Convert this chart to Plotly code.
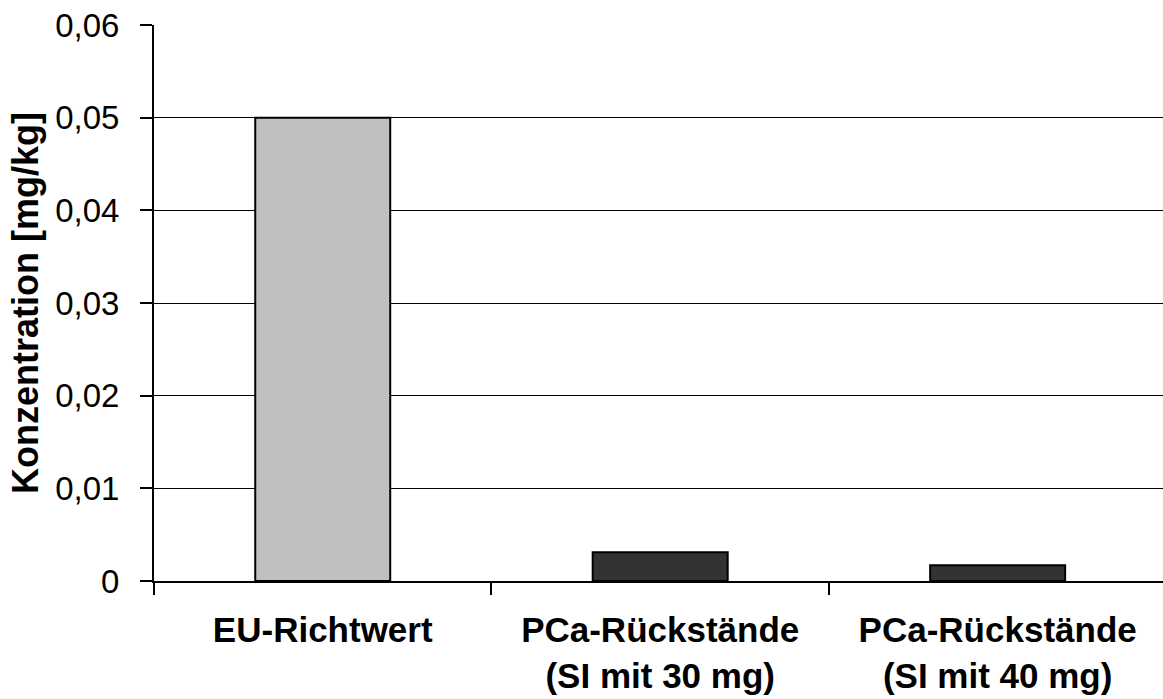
import plotly.graph_objects as go

# Konzentration je Probe in mg/kg
kategorien = ["EU-Richtwert", "PCa-Rückstände<br>(SI mit 30 mg)", "PCa-Rückstände<br>(SI mit 40 mg)"]
werte = [0.05, 0.0031, 0.0017]
farben = ["#C0C0C0", "#333333", "#333333"]

fig = go.Figure(
    go.Bar(
        x=kategorien,
        y=werte,
        marker=dict(color=farben, line=dict(color="black", width=2)),
        width=0.4,
    )
)

fig.update_layout(
    width=1163,
    height=699,
    margin=dict(l=154, r=0, t=25, b=118),
    paper_bgcolor="white",
    plot_bgcolor="white",
    separators=", ",
    font=dict(family="Liberation Sans, Arial, sans-serif", color="black"),
    showlegend=False,
)

fig.update_xaxes(
    range=[-0.5, 2.49],
    automargin=False,
    showline=True,
    linecolor="black",
    linewidth=2,
    ticks="outside",
    tickson="boundaries",
    ticklen=12,
    tickwidth=2,
    tickcolor="black",
    ticklabelstandoff=17,
    tickfont=dict(size=35, family="Liberation Sans, Arial, sans-serif", weight="bold"),
    showgrid=False,
)

fig.update_yaxes(
    range=[0, 0.06],
    automargin=False,
    dtick=0.01,
    tick0=0,
    tickformat=".2~f",
    showline=True,
    linecolor="black",
    linewidth=2,
    ticks="outside",
    ticklen=12,
    tickwidth=2,
    tickcolor="black",
    ticklabelstandoff=14,
    tickfont=dict(size=33),
    showgrid=True,
    gridcolor="black",
    gridwidth=1,
    zeroline=False,
    title=dict(
        text="Konzentration [mg/kg]",
        font=dict(size=36, weight="bold"),
        standoff=6,
    ),
)

fig.write_html("out.html")
